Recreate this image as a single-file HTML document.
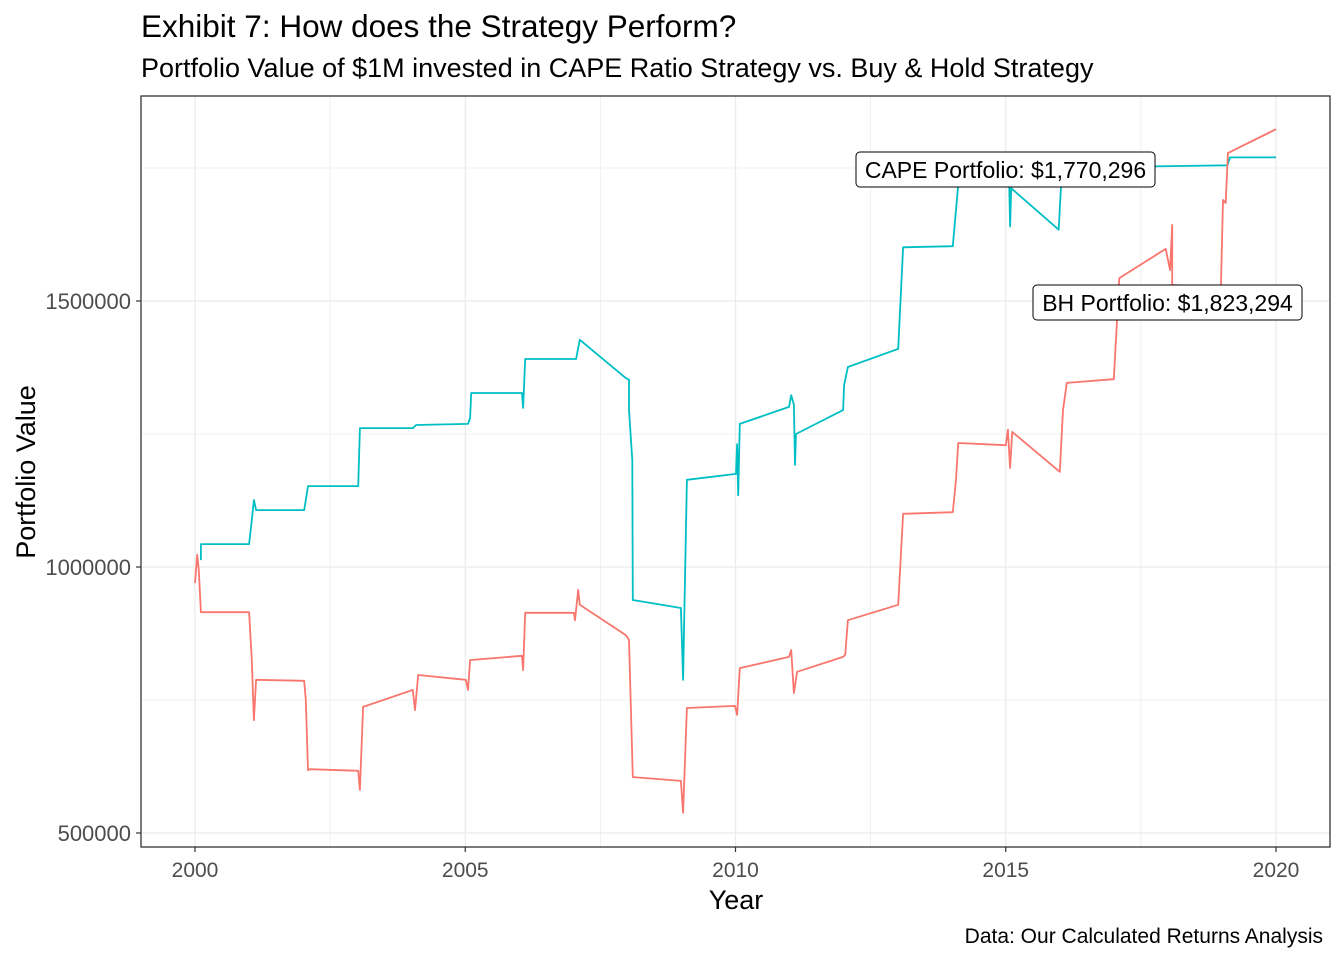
<!DOCTYPE html>
<html><head><meta charset="utf-8"><style>
body{margin:0;background:#fff;}
svg{display:block;font-family:"Liberation Sans",Arial,sans-serif;}
</style></head><body>
<svg id="chart" width="1344" height="960">
<rect width="1344" height="960" fill="#fff"/>
<text x="141" y="37" font-size="31.5" fill="#000">Exhibit 7: How does the Strategy Perform?</text>
<text x="141" y="77" font-size="27" fill="#000">Portfolio Value of $1M invested in CAPE Ratio Strategy vs. Buy &amp; Hold Strategy</text>
<g id="grid"></g>
<g id="series"></g>
<rect x="141" y="96" width="1189" height="751" fill="none" stroke="#333" stroke-width="1.3"/>
<g id="axes"></g>
<text x="736" y="909" font-size="27" text-anchor="middle">Year</text>
<text transform="translate(35,472) rotate(-90)" font-size="27" text-anchor="middle">Portfolio Value</text>
<text x="1323" y="943" font-size="21" text-anchor="end">Data: Our Calculated Returns Analysis</text>
</svg>
<script>
const xTicks=[2000,2005,2010,2015,2020];
const yTicks=[500000,1000000,1500000];
const yTickLabels=["500000","1000000","1500000"];
const capeYears=[2000.11,2000.11,2001.0,2001.05,2001.09,2001.13,2002.02,2002.09,2003.02,2003.05,2004.03,2004.09,2005.05,2005.09,2005.11,2006.05,2006.07,2006.11,2007.05,2007.09,2007.12,2007.97,2008.03,2008.03,2008.09,2008.10,2008.99,2009.03,2009.05,2009.10,2010.01,2010.03,2010.05,2010.08,2010.99,2011.03,2011.08,2011.10,2011.12,2011.99,2012.01,2012.08,2013.01,2013.10,2014.02,2014.12,2014.16,2015.06,2015.08,2015.10,2015.98,2016.02,2016.05,2016.96,2017.0,2019.1,2019.15,2020.0];
const capeValues=[1013,1043,1043,1088,1126,1107,1107,1152,1152,1261,1261,1267,1269,1280,1327,1327,1299,1391,1391,1412,1427,1355,1352,1295,1201,938,923,788,900,1164,1175,1231,1135,1269,1301,1323,1305,1192,1250,1295,1342,1376,1410,1601,1603,1718,1740,1740,1640,1712,1634,1712,1745,1750,1752,1755,1770,1770];
const bhYears=[2000,2000.04,2000.07,2000.11,2001.0,2001.05,2001.09,2001.13,2002.02,2002.05,2002.09,2002.13,2003.02,2003.05,2003.11,2004.03,2004.07,2004.13,2005.01,2005.05,2005.09,2006.05,2006.07,2006.11,2007.01,2007.03,2007.09,2007.12,2007.97,2008.03,2008.10,2008.99,2009.03,2009.10,2009.99,2010.03,2010.08,2010.99,2011.03,2011.08,2011.14,2011.99,2012.03,2012.08,2013.01,2013.10,2014.02,2014.08,2014.12,2015.0,2015.04,2015.08,2015.12,2016.0,2016.06,2016.13,2017.0,2017.10,2017.96,2018.04,2018.08,2018.08,2018.98,2019.02,2019.07,2019.11,2020.0];
const bhValues=[970,1023,994,915,915,825,712,788,786,750,618,620,617,581,737,769,731,797,788,769,825,833,806,914,914,900,957,929,872,863,605,598,538,735,739,722,810,831,844,763,803,831,835,900,929,1100,1103,1164,1233,1229,1258,1186,1254,1179,1295,1346,1353,1543,1598,1558,1643,1530,1526,1690,1684,1778,1823];
const NS="http://www.w3.org/2000/svg";
function X(y){return 195+(y-2000)*(1276-195)/20;}
function Y(v){return 567-(v-1000000)*266/500000;}
function mk(t,a,p){const e=document.createElementNS(NS,t);for(const k in a)e.setAttribute(k,a[k]);p.appendChild(e);return e;}
const grid=document.getElementById('grid'),axes=document.getElementById('axes'),ser=document.getElementById('series');
for(let y=1997.5;y<=2022.5;y+=2.5){const px=X(y);if(px<141||px>1330)continue;const major=(y%5===0);
const l=mk('line',{x1:px,x2:px,y1:96,y2:847,stroke:'#ebebeb','stroke-width':major?1.3:0.7},grid);

}
for(let v=250000;v<=2000000;v+=250000){const py=Y(v);if(py<96||py>847)continue;const major=(v%500000===0);
const l=mk('line',{x1:141,x2:1330,y1:py,y2:py,stroke:'#ebebeb','stroke-width':major?1.3:0.7},grid);

}
xTicks.forEach(t=>{const px=X(t);
const tk=mk('line',{x1:px,x2:px,y1:847,y2:852,stroke:'#333','stroke-width':1.2},axes);


const tx=mk('text',{x:px,y:877,'font-size':21,fill:'#4d4d4d','text-anchor':'middle'},axes);tx.textContent=t;

});
yTicks.forEach((t,i)=>{const py=Y(t);
const tk=mk('line',{x1:136,x2:141,y1:py,y2:py,stroke:'#333','stroke-width':1.2},axes);


const tx=mk('text',{x:131,y:py+8,'font-size':22,fill:'#4d4d4d','text-anchor':'end'},axes);tx.textContent=yTickLabels[i];

});
function line(ys,vs,col,name){const d=ys.map((y,i)=>(i?'L':'M')+X(y).toFixed(1)+','+Y(vs[i]*1000).toFixed(1)).join('');
const p=mk('path',{d:d,fill:'none',stroke:col,'stroke-width':1.8,'stroke-linejoin':'round'},ser);

}
line(capeYears,capeValues,'#00BFC4','cape-portfolio-line');
line(bhYears,bhValues,'#F8766D','bh-portfolio-line');
function label(x,y,w,txt,name){const g=mk('g',{},ser);


mk('rect',{x:x,y:y,width:w,height:35,rx:4,fill:'#fff',stroke:'#000','stroke-width':1},g);
const t=mk('text',{x:x+w/2,y:y+26,'font-size':23,'text-anchor':'middle'},g);t.textContent=txt;}
label(856,152,299,'CAPE Portfolio: $1,770,296','cape-label');
label(1033,285,269,'BH Portfolio: $1,823,294','bh-label');
</script>
</body></html>
